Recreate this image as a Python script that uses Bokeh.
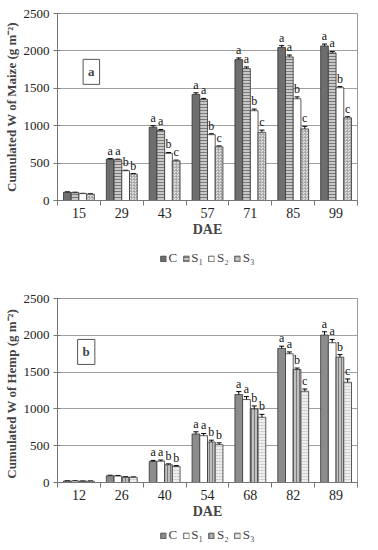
import numpy as np
from bokeh.plotting import figure
from bokeh.models import (ColumnDataSource, FixedTicker, Whisker, TeeHead, Label,
                          Legend, LegendItem, Range1d)
from bokeh.layouts import column
from bokeh.embed import file_html
from bokeh.resources import INLINE
from bokeh.core.properties import value

treatments = ["C", "S\u2081", "S\u2082", "S\u2083"]
y_ticks = [0, 500, 1000, 1500, 2000, 2500]

# ---- Maize (panel a) ----
maize_dae = ["15", "29", "43", "57", "71", "85", "99"]
maize_C = [110, 553, 980, 1418, 1884, 2045, 2067]
maize_S1 = [105, 545, 935, 1350, 1763, 1920, 1973]
maize_S2 = [92, 398, 632, 880, 1200, 1360, 1508]
maize_S3 = [85, 354, 530, 718, 911, 957, 1105]
maize_err_C = [6, 8, 20, 22, 22, 25, 25]
maize_err_S1 = [6, 8, 15, 15, 22, 25, 20]
maize_err_S2 = [4, 6, 10, 12, 22, 25, 15]
maize_err_S3 = [4, 6, 10, 12, 30, 35, 15]
maize_let_C = ["", "a", "a", "a", "a", "a", "a"]
maize_let_S1 = ["", "a", "a", "a", "a", "a", "a"]
maize_let_S2 = ["", "b", "b", "b", "b", "b", "b"]
maize_let_S3 = ["", "b", "c", "c", "c", "c", "c"]

# ---- Hemp (panel b) ----
hemp_dae = ["12", "26", "40", "54", "68", "82", "89"]
hemp_C = [20, 91, 285, 659, 1195, 1822, 2003]
hemp_S1 = [20, 88, 290, 636, 1127, 1749, 1899]
hemp_S2 = [18, 73, 241, 550, 1000, 1535, 1703]
hemp_S3 = [18, 70, 218, 514, 886, 1240, 1362]
hemp_err_C = [2, 8, 15, 30, 40, 30, 45]
hemp_err_S1 = [2, 8, 15, 30, 40, 25, 45]
hemp_err_S2 = [2, 6, 12, 25, 40, 20, 35]
hemp_err_S3 = [2, 6, 12, 25, 40, 30, 45]
hemp_let_C = ["", "", "a", "a", "a", "a", "a"]
hemp_let_S1 = ["", "", "a", "a", "a", "a", "a"]
hemp_let_S2 = ["", "", "b", "b", "b", "b", "b"]
hemp_let_S3 = ["", "", "b", "b", "b", "c", "c"]

SERIF = "Liberation Serif"

maize_styles = [
    dict(fill_color="#6e6e6e"),
    dict(fill_color="#c8c8c8", hatch_pattern="horizontal_line", hatch_color="#7a7a7a", hatch_scale=3, hatch_weight=1),
    dict(fill_color="white"),
    dict(fill_color="#e8e8e8", hatch_pattern="criss_cross", hatch_color="#9a9a9a", hatch_scale=3, hatch_weight=0.6),
]
hemp_styles = [
    dict(fill_color="#8c8c8c"),
    dict(fill_color="white"),
    dict(fill_color="#c0c0c0", hatch_pattern="vertical_line", hatch_color="#7a7a7a", hatch_scale=3, hatch_weight=1),
    dict(fill_color="#eeeeee", hatch_pattern="horizontal_dash", hatch_color="#bbbbbb", hatch_scale=3, hatch_weight=0.7),
]


def make_chart(dae, series, errs, letters, styles, ylabel, panel, panel_xy,
               height, border_top, border_left, border_right, border_bottom):
    p = figure(width=362, height=height, output_backend="svg", toolbar_location=None,
               x_range=Range1d(-0.5, 6.5), y_range=Range1d(0, 2500),
               min_border_top=border_top, min_border_left=border_left,
               min_border_right=border_right, min_border_bottom=border_bottom)
    p.outline_line_color = "#999999"
    p.xgrid.grid_line_color = None
    p.ygrid.grid_line_color = "#a0a0a0"
    p.ygrid.ticker = FixedTicker(ticks=y_ticks)

    offsets = [-0.27, -0.09, 0.09, 0.27]
    idx = np.arange(len(dae))
    for k in range(4):
        top = np.array(series[k], dtype=float)
        err = np.array(errs[k], dtype=float)
        src = ColumnDataSource(dict(x=idx + offsets[k], top=top, upper=top + err,
                                    lower=top - err, letter=letters[k]))
        p.vbar(x="x", top="top", width=0.18, source=src, line_color="#333333",
               line_width=0.8, **styles[k])
        p.add_layout(Whisker(source=src, base="x", upper="upper", lower="lower",
                             line_color="black", line_width=1,
                             upper_head=TeeHead(size=5, line_color="black", line_width=1),
                             lower_head=TeeHead(size=5, line_color="black", line_width=1)))
        p.text(x="x", y="upper", text="letter", source=src, text_align="center",
               text_baseline="bottom", text_font=value(SERIF), text_font_size="12px",
               text_color="#111111", y_offset=-1)

    p.add_layout(Label(x=panel_xy[0], y=panel_xy[1], text=panel, text_align="center",
                       text_baseline="middle", text_font=SERIF, text_font_style="bold",
                       text_font_size="13px", border_line_color="#555555",
                       background_fill_color="white", padding=5))

    xa = p.xaxis[0]
    xa.ticker = FixedTicker(ticks=list(range(len(dae))),
                            minor_ticks=[i - 0.5 for i in range(len(dae) + 1)])
    xa.major_label_overrides = {i: d for i, d in enumerate(dae)}
    xa.major_tick_line_color = None
    xa.major_tick_out = 5
    xa.major_tick_in = 0
    xa.minor_tick_out = 5
    xa.minor_tick_in = 0
    xa.minor_tick_line_color = "#777777"
    xa.axis_line_color = "#777777"
    xa.major_label_text_font = SERIF
    xa.major_label_text_font_size = "14px"
    xa.major_label_text_color = "#222222"
    xa.major_label_standoff = 2
    xa.axis_label = "DAE"
    xa.axis_label_text_font = SERIF
    xa.axis_label_text_font_style = "bold"
    xa.axis_label_text_font_size = "14px"
    xa.axis_label_standoff = 1

    ya = p.yaxis[0]
    ya.ticker = FixedTicker(ticks=y_ticks)
    ya.major_tick_out = 4
    ya.major_tick_in = 3
    ya.minor_tick_line_color = None
    ya.major_tick_line_color = "#777777"
    ya.axis_line_color = "#777777"
    ya.major_label_text_font = SERIF
    ya.major_label_text_font_size = "13px"
    ya.major_label_text_color = "#222222"
    ya.major_label_standoff = 4
    ya.axis_label = ylabel
    ya.axis_label_text_font = SERIF
    ya.axis_label_text_font_style = "bold"
    ya.axis_label_text_font_size = "13px"
    ya.axis_label_standoff = 2
    return p


def make_legend(styles, height):
    # Legend-only strip: one dummy bar per treatment, placed far outside the visible range,
    # gives the legend its swatch
    lp = figure(width=362, height=height, output_backend="svg", toolbar_location=None,
                x_range=Range1d(0, 1), y_range=Range1d(0, 1),
                x_axis_type=None, y_axis_type=None,
                min_border=0)
    lp.outline_line_color = None
    lp.grid.grid_line_color = None
    items = []
    for k in range(4):
        r = lp.vbar(x=[-50], top=[-49], bottom=[-50], width=0.1, line_color="#333333",
                    line_width=0.8, **styles[k])
        items.append(LegendItem(label=treatments[k], renderers=[r]))
    leg = Legend(items=items, location="center", orientation="horizontal",
                 label_text_font=SERIF, label_text_font_size="13px",
                 glyph_width=7, glyph_height=7, label_standoff=2, spacing=5,
                 padding=0, margin=0, border_line_color=None,
                 background_fill_alpha=0, label_height=12, label_width=6)
    lp.add_layout(leg)
    return lp


p1 = make_chart(maize_dae, [maize_C, maize_S1, maize_S2, maize_S3],
                [maize_err_C, maize_err_S1, maize_err_S2, maize_err_S3],
                [maize_let_C, maize_let_S1, maize_let_S2, maize_let_S3],
                maize_styles, "Cumulated W of Maize (g m\u207b\u00b2)", "a", (0.29, 1720),
                240, 13, 49, 2, 40)
l1 = make_legend(maize_styles, 36)
p2 = make_chart(hemp_dae, [hemp_C, hemp_S1, hemp_S2, hemp_S3],
                [hemp_err_C, hemp_err_S1, hemp_err_S2, hemp_err_S3],
                [hemp_let_C, hemp_let_S1, hemp_let_S2, hemp_let_S3],
                hemp_styles, "Cumulated  W of  Hemp (g m\u207b\u00b2)", "b", (0.17, 1774),
                245, 22, 55, 5, 38)
l2 = make_legend(hemp_styles, 28)

layout = column(p1, l1, p2, l2, spacing=0)
open("out.html", "w").write(file_html(layout, INLINE))
